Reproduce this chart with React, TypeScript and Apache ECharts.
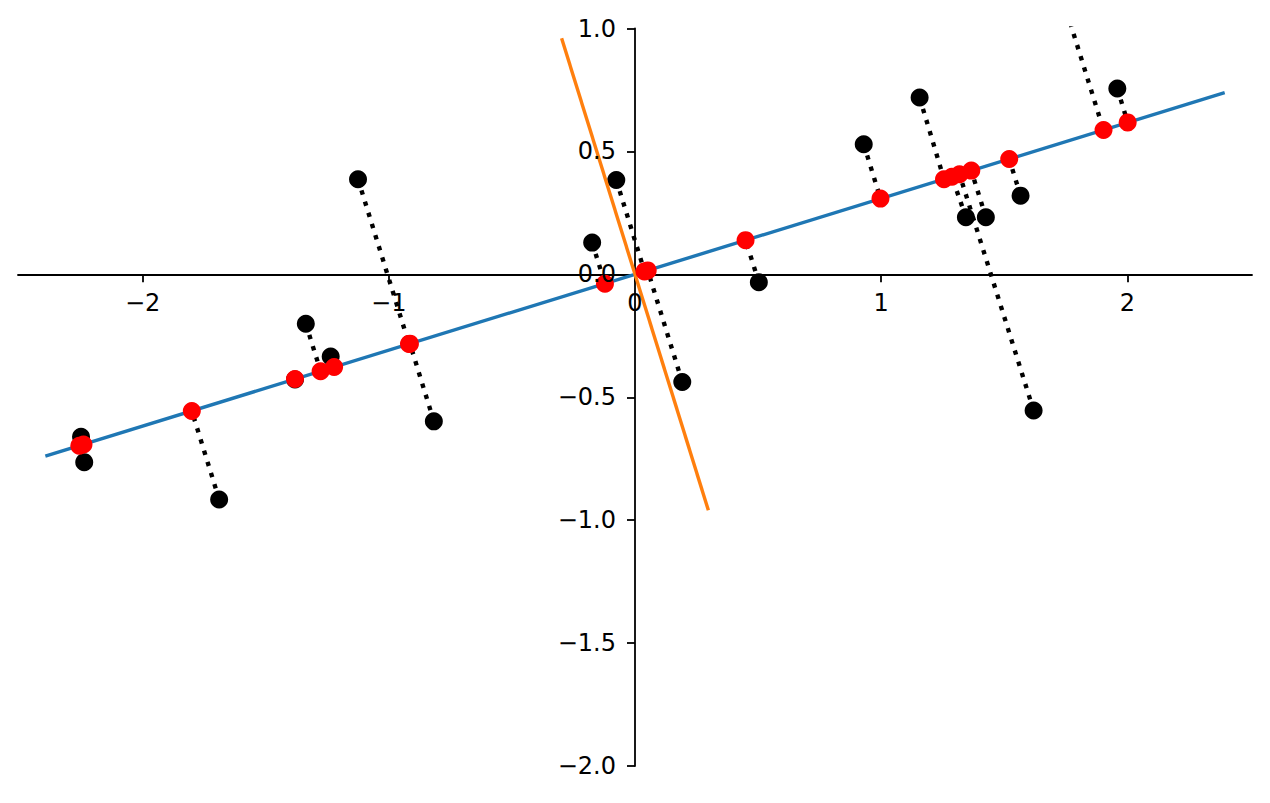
import React, { useEffect, useRef } from "react";
import * as echarts from "echarts";

// Original points (black)
const blackX = [-2.250, -2.237, -1.689, -1.381, -1.337, -1.236, -1.125, -0.817, -0.174, -0.076, 0.192, 0.503, 0.929, 1.156, 1.344, 1.425, 1.566, 1.619, 1.725, 1.959];
const blackY = [-0.661, -0.764, -0.916, -0.428, -0.201, -0.334, 0.387, -0.598, 0.129, 0.384, -0.438, -0.032, 0.529, 0.719, 0.232, 0.232, 0.320, -0.554, 1.160, 0.756];
// Projected points (red), paired with the black ones
const redX = [-2.240, -2.257, -1.800, -1.381, -1.277, -1.222, -0.918, -0.914, -0.122, 0.0385, 0.0516, 0.449, 0.997, 1.255, 1.287, 1.366, 1.520, 1.318, 1.903, 2.001];
const redY = [-0.692, -0.697, -0.556, -0.426, -0.394, -0.377, -0.283, -0.282, -0.038, 0.012, 0.016, 0.139, 0.308, 0.387, 0.397, 0.422, 0.469, 0.407, 0.587, 0.618];
// Principal axes
const pc1X = [-2.395, 2.395];
const pc1Y = [-0.739, 0.739];
const pc2X = [-0.298, 0.298];
const pc2Y = [0.960, -0.960];
// Ticks
const xTicks = [-2, -1, 0, 1, 2];
const yTicks = [-2, -1.5, -1, -0.5, 0, 0.5, 1];
const xRange = [-2.506, 2.506];
const yRange = [-2, 1];
const yStep = 0.5;

const minus = (s: string) => s.replace("-", "\u2212");

export default function App() {
  const ref = useRef<HTMLDivElement>(null);
  useEffect(() => {
    if (!ref.current) return;
    const chart = echarts.init(ref.current, undefined, { renderer: "svg" });
    const font = "DejaVu Sans";
    const connectors = blackX.map((bx, i) => ({
      type: "line",
      data: [
        [bx, blackY[i]],
        [redX[i], redY[i]],
      ],
      symbol: "none",
      clip: true,
      silent: true,
      z: 2,
      lineStyle: { color: "#000", width: 4.4, type: [4.4, 7.3], cap: "butt" },
    }));
    chart.setOption({
      animation: false,
      textStyle: { fontFamily: font, fontSize: 24, color: "#000000" },
      grid: { left: 18, right: 18, top: 28.5, bottom: 37, containLabel: false, outerBoundsMode: "none" },
      xAxis: {
        type: "value",
        min: xRange[0],
        max: xRange[1],
        axisLine: { onZero: true, lineStyle: { color: "#000", width: 1.8 } },
        axisTick: { customValues: xTicks, length: 8, lineStyle: { color: "#000", width: 1.8 } },
        axisLabel: { show: false },
        splitLine: { show: false },
      },
      yAxis: {
        type: "value",
        min: yRange[0],
        max: yRange[1],
        interval: yStep,
        axisLine: { show: true, onZero: true, lineStyle: { color: "#000", width: 1.8 } },
        axisTick: { show: true, length: 8, lineStyle: { color: "#000", width: 1.8 } },
        axisLabel: { show: false },
        splitLine: { show: false },
      },
      series: [
        ...connectors,
        {
          type: "scatter",
          data: blackX.map((x, i) => [x, blackY[i]]),
          symbol: "circle",
          symbolSize: 18,
          itemStyle: { color: "#000", opacity: 1 },
          clip: true,
          z: 3,
        },
        {
          type: "line",
          data: pc1X.map((x, i) => [x, pc1Y[i]]),
          symbol: "none",
          lineStyle: { color: "#1f77b4", width: 3.4 },
          z: 4,
        },
        {
          type: "line",
          data: pc2X.map((x, i) => [x, pc2Y[i]]),
          symbol: "none",
          lineStyle: { color: "#ff7f0e", width: 3.4 },
          z: 4,
        },
        {
          type: "scatter",
          data: redX.map((x, i) => [x, redY[i]]),
          symbol: "circle",
          symbolSize: 18,
          itemStyle: { color: "#ff0000", opacity: 1 },
          clip: true,
          z: 5,
        },
      ],
    });

    // Tick labels that follow the centred spines, placed through the chart's own scales
    const fontStr = `24px "${font}"`;
    const graphics: any[] = [];
    xTicks.forEach((v) => {
      const p = chart.convertToPixel({ gridIndex: 0 }, [v, 0]) as number[];
      graphics.push({
        type: "text",
        x: p[0],
        y: p[1] + 17,
        silent: true,
        z: 10,
        style: {
          text: minus(String(v)),
          fill: "#000000",
          font: fontStr,
          align: "center",
          verticalAlign: "top",
          textAlign: "center",
          textVerticalAlign: "top",
        },
      });
    });
    yTicks.forEach((v) => {
      const p = chart.convertToPixel({ gridIndex: 0 }, [0, v]) as number[];
      graphics.push({
        type: "text",
        x: p[0] - 19,
        y: p[1],
        silent: true,
        z: 10,
        style: {
          text: minus(v.toFixed(1)),
          fill: "#000000",
          font: fontStr,
          align: "right",
          verticalAlign: "middle",
          textAlign: "right",
          textVerticalAlign: "middle",
        },
      });
    });
    chart.setOption({ graphic: graphics });

    return () => chart.dispose();
  }, []);
  return (
    <div
      ref={ref}
      style={{ position: "fixed", left: 0, top: 0, width: 1270, height: 803, background: "#fff" }}
    />
  );
}
